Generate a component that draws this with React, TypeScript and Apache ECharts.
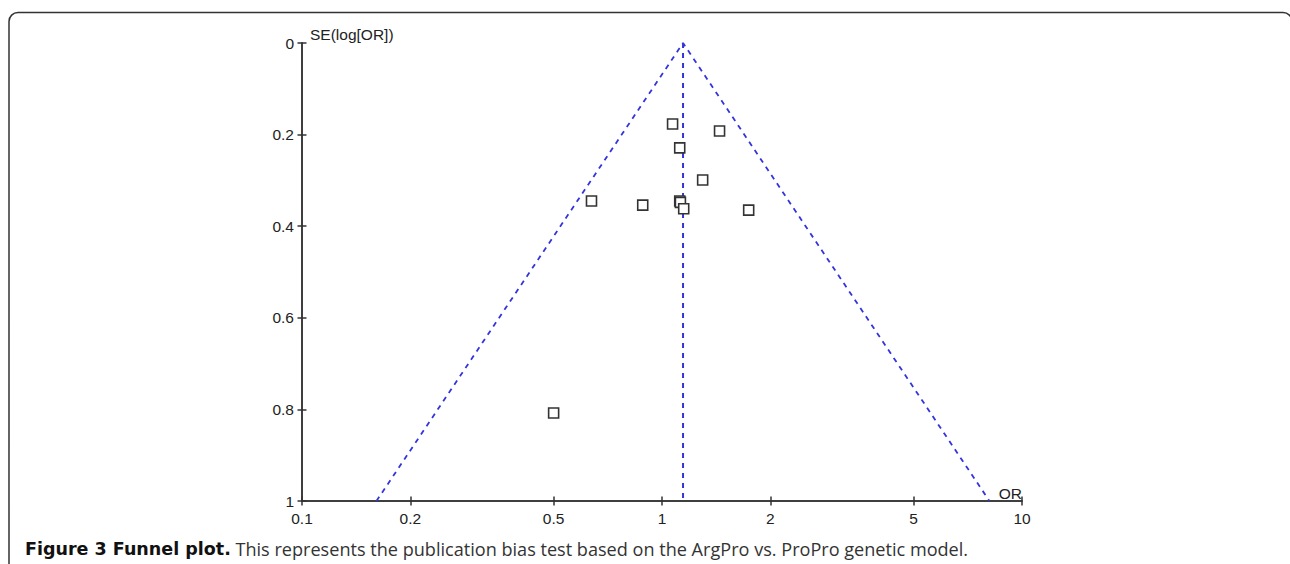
import React, { useEffect, useRef } from "react";
import * as echarts from "echarts";

// Study estimates
const studyOR = [1.07, 1.445, 1.12, 1.297, 0.637, 0.884, 1.12, 1.125, 1.149, 1.741, 0.5];
const studySE = [0.177, 0.192, 0.229, 0.299, 0.345, 0.354, 0.345, 0.348, 0.362, 0.365, 0.808];

// Pooled estimate (vertical line) and pseudo-95% confidence funnel
const pooledOR = 1.144;
const funnelOR = [0.161, 1.144, 8.12];
const funnelSE = [1, 0, 1];

// Axis ticks
const xTickOR = [0.1, 0.2, 0.5, 1, 2, 5, 10];
const yTickSE = [0, 0.2, 0.4, 0.6, 0.8, 1];

const captionBold = "Figure 3 Funnel plot.";
const captionText =
  " This represents the publication bias test based on the ArgPro vs. ProPro genetic model.";

export default function App() {
  const ref = useRef<HTMLDivElement>(null);

  useEffect(() => {
    if (!ref.current) return;
    const chart = echarts.init(ref.current, null, { renderer: "svg" });
    const lg = (v: number) => Math.log10(v);
    const xTicks = xTickOR.map(lg);
    const gridRect = { left: 302, top: 43, width: 720, height: 458 };
    const lineCol = "#333";
    const axisLine = { show: true, onZero: false, lineStyle: { color: lineCol, width: 1.5 } };
    const labelStyle = { fontFamily: "Liberation Sans", fontSize: 15.5, color: "#222" };
    const blue = "#3434dc";

    const xBase: any = {
      type: "value",
      min: -1,
      max: 1,
      splitLine: { show: false },
      axisLine,
    };
    const yBase: any = {
      type: "value",
      min: yTickSE[0],
      max: yTickSE[yTickSE.length - 1],
      interval: 0.2,
      inverse: true,
      splitLine: { show: false },
      axisLine,
    };

    chart.setOption({
      animation: false,
      backgroundColor: "#fff",
      grid: [
        { ...gridRect, containLabel: false },
        { ...gridRect, containLabel: false },
      ],
      xAxis: [
        {
          ...xBase,
          gridIndex: 0,
          position: "bottom",
          name: "OR",
          nameLocation: "end",
          nameGap: 0,
          nameTextStyle: { ...labelStyle, align: "right", verticalAlign: "bottom" },
          axisTick: { show: true, customValues: xTicks, length: 4.5, lineStyle: { color: lineCol, width: 1.5 } },
          axisLabel: {
            ...labelStyle,
            customValues: xTicks,
            margin: 9,
            formatter: (v: number) => String(Number(Math.pow(10, v).toPrecision(2))),
          },
        },
        {
          ...xBase,
          gridIndex: 1,
          position: "bottom",
          axisTick: { show: true, inside: true, customValues: xTicks, length: 4.5, lineStyle: { color: lineCol, width: 1.5 } },
          axisLabel: { show: false },
        },
      ],
      yAxis: [
        {
          ...yBase,
          gridIndex: 0,
          position: "left",
          axisTick: { show: true, length: 4.5, lineStyle: { color: lineCol, width: 1.5 } },
          axisLabel: { ...labelStyle, margin: 8 },
        },
        {
          ...yBase,
          gridIndex: 1,
          position: "left",
          axisTick: { show: true, inside: true, length: 4.5, lineStyle: { color: lineCol, width: 1.5 } },
          axisLabel: { show: false },
        },
      ],
      graphic: [
        {
          type: "rect",
          silent: true,
          shape: { x: 9, y: 12.5, width: 1283, height: 620, r: 9 },
          style: { fill: "none", stroke: "#333", lineWidth: 1.5 },
        },
        {
          type: "text",
          silent: true,
          x: 310,
          y: 34,
          style: {
            text: "SE(log[OR])",
            fontFamily: "Liberation Sans",
            fontSize: 15.5,
            fill: "#222",
            verticalAlign: "middle",
          },
        },
        {
          type: "text",
          silent: true,
          x: 25,
          y: 549,
          style: {
            text: "{b|" + captionBold + "}{n|" + captionText + "}",
            verticalAlign: "middle",
            rich: {
              b: { fontFamily: "DejaVu Sans", fontSize: 17.5, fontWeight: "bold", fill: "#111", color: "#111" },
              n: { fontFamily: "Open Sans", fontSize: 18.1, fill: "#333", color: "#333" },
            },
          },
        },
      ],
      series: [
        {
          type: "line",
          xAxisIndex: 0,
          yAxisIndex: 0,
          data: funnelOR.map((o, i) => [lg(o), funnelSE[i]]),
          symbol: "none",
          lineStyle: { color: blue, width: 1.8, type: [5, 5] },
          z: 2,
        },
        {
          type: "line",
          xAxisIndex: 0,
          yAxisIndex: 0,
          data: [
            [lg(pooledOR), yTickSE[0]],
            [lg(pooledOR), yTickSE[yTickSE.length - 1]],
          ],
          symbol: "none",
          lineStyle: { color: blue, width: 2, type: [5, 5] },
          z: 2,
        },
        {
          type: "scatter",
          xAxisIndex: 0,
          yAxisIndex: 0,
          data: studyOR.map((o, i) => [lg(o), studySE[i]]),
          symbol: "rect",
          symbolSize: 10,
          itemStyle: { color: "#fff", borderColor: "#333", borderWidth: 1.6, opacity: 1 },
          z: 5,
        },
      ],
    });

    return () => chart.dispose();
  }, []);

  return (
    <div
      ref={ref}
      style={{ position: "absolute", left: 0, top: 0, width: 1290, height: 564 }}
    />
  );
}
